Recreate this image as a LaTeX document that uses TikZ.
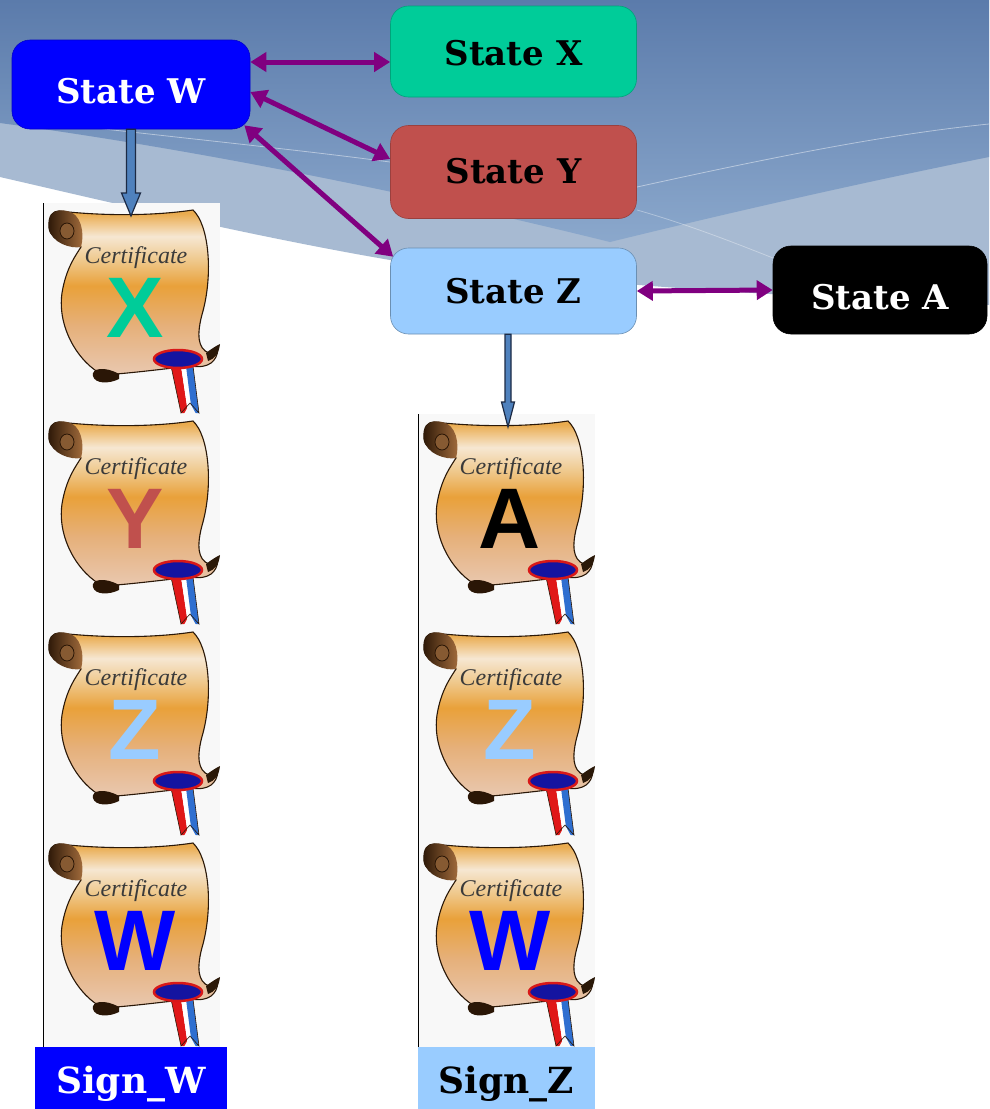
\documentclass[tikz,border=0pt]{standalone}
\usepackage{fontspec}
\setmainfont{DejaVu Serif}
\newfontfamily\letterfont{Liberation Sans}
\newfontfamily\scriptf{Liberation Serif}
\usetikzlibrary{arrows.meta,calc}
\definecolor{stW}{HTML}{0000FF}
\definecolor{stX}{HTML}{00CC99}
\definecolor{stY}{HTML}{C0504D}
\definecolor{stZ}{HTML}{99CCFF}
\definecolor{purp}{HTML}{800080}
\definecolor{barrow}{HTML}{4F81BD}
\definecolor{barrowedge}{HTML}{1C2A44}
\definecolor{bgtop}{HTML}{5B7BAB}
\definecolor{bgbot}{HTML}{8BA8CC}
\definecolor{bgpat}{HTML}{A7BAD2}
\definecolor{certbg}{HTML}{F8F8F8}
\definecolor{edge}{HTML}{2A1808}
\definecolor{certtext}{HTML}{3A3A3A}
\definecolor{sealred}{HTML}{D81818}
\definecolor{sealblue}{HTML}{1414A0}
\definecolor{ribred}{HTML}{E01818}
\definecolor{ribblue}{HTML}{2F6FD0}
\definecolor{rolld}{HTML}{2A1606}
\definecolor{rolll}{HTML}{A8703F}
\definecolor{pA}{HTML}{9A6848}
\definecolor{pB}{HTML}{E8D2C6}
\definecolor{pC}{HTML}{F6ECE6}
\definecolor{pD}{HTML}{E9C8B0}
\definecolor{pE}{HTML}{E6B07A}
\definecolor{pF}{HTML}{E9A13A}
\definecolor{pG}{HTML}{EFC98E}
\definecolor{pH}{HTML}{F6E7D2}
\definecolor{pI}{HTML}{EAAB4E}
\definecolor{pJ}{HTML}{EEBE78}
\definecolor{pK}{HTML}{E9B46A}
\pgfdeclareverticalshading{paper}{100bp}{color(0bp)=(pA); color(4bp)=(pB); color(12bp)=(pC); color(25bp)=(pD); color(40bp)=(pE); color(52bp)=(pF); color(60bp)=(pG); color(67bp)=(pH); color(74bp)=(pI); color(86bp)=(pJ); color(100bp)=(pK)}
\tikzset{
  stbox/.style={rounded corners=18pt, inner sep=0pt, line width=0.6pt,
    font=\bfseries\fontsize{34}{40}\selectfont, text depth=0pt},
  signbox/.style={inner sep=0pt, font=\bfseries\fontsize{36}{42}\selectfont,
    text height=30pt, text depth=0pt, minimum height=62pt},
  dbl/.style={purp, line width=5pt,
    {Triangle[length=16pt,width=19pt]}-{Triangle[length=16pt,width=19pt]}},
  blockarrow/.style={fill=barrow, draw=barrowedge, line width=1.2pt, line join=miter},
  pics/cert/.style 2 args={code={
    \fill[certbg] (0,0) rectangle (177,211);
    \draw[black, line width=1.3pt] (0.6,0) -- (0.6,211);
    \shadedraw[shading=paper, draw=edge, line width=1.1pt]
      (16,8) .. controls (60,13) and (110,13) .. (150,7)
      .. controls (166,22) and (170,70) .. (160,108)
      .. controls (153,132) and (155,146) .. (166,150)
      -- (175,146)
      .. controls (174,158) and (166,166) .. (148,163)
      .. controls (120,166) and (90,170) .. (60,172)
      .. controls (36,160) and (14,125) .. (19,90)
      .. controls (23,65) and (33,52) .. (38,44)
      .. controls (30,40) and (8,40) .. (6,25)
      .. controls (5,12) and (10,8) .. (16,8) -- cycle;
    \shade[left color=rolld, right color=rolll]
      (6,25) .. controls (4,10) and (14,5) .. (24,8)
      .. controls (38,10) and (42,30) .. (38,44)
      .. controls (28,46) and (8,40) .. (6,25) -- cycle;
    \draw[fill=rolll!80!black, draw=rolld, line width=0.8pt] (24,28) ellipse [x radius=7, y radius=8];
    \fill[rolld] (76,171) .. controls (62,163) and (48,165) .. (50,173)
      .. controls (52,181) and (66,181) .. (76,176) -- cycle;
    \fill[edge] (163,150) .. controls (168,146) and (173,143) .. (177,141)
      .. controls (176,150) and (172,156) .. (165,158) -- cycle;
    \fill[ribred] (128,163) -- (138,163) -- (145,210) -- (138,210) -- cycle;
    \fill[white] (138,163) -- (143,163) -- (149,210) -- (145,210) -- cycle;
    \fill[ribblue] (143,163) -- (150,163) -- (156,210) -- (149,210) -- cycle;
    \fill[certbg] (141,211) -- (147,200) -- (153,211) -- cycle;
    \draw[edge, line width=0.6pt] (128,163) -- (138,210) -- (147,200) -- (156,210) -- (150,163);
    \draw[draw=sealred, fill=sealblue, line width=2.5pt] (135,156) ellipse [x radius=24, y radius=9];
    \node[font=\scriptf\itshape\fontsize{24}{24}\selectfont, text=certtext, inner sep=0pt] at (93,55) {Certificate};
    \node[font=\letterfont\bfseries\fontsize{86}{86}\selectfont, text=#2, inner sep=0pt] at (92,105) {#1};
  }}
}
\begin{document}
\begin{tikzpicture}[x=1pt,y=-1pt]
\useasboundingbox (0,0) rectangle (989,1109);
\fill[white] (0,0) rectangle (989,1109);
% slide background
\fill[bgpat] (0,0) -- (989,0) -- (989,305) .. controls (800,296) and (640,290) .. (390,260)
  .. controls (250,236) and (100,200) .. (0,177) -- cycle;
\shade[top color=bgtop, bottom color=bgbot] (0,0) -- (989,0) -- (989,157)
  .. controls (850,185) and (720,215) .. (610,242)
  .. controls (420,195) and (200,150) .. (0,123) -- cycle;
\draw[white, opacity=0.45, line width=0.8pt] (60,124) .. controls (200,140) and (300,150) .. (390,162);
\draw[white, opacity=0.45, line width=0.8pt] (637,187) .. controls (760,160) and (880,135) .. (989,124);
\draw[white, opacity=0.35, line width=0.8pt] (637,210) .. controls (690,225) and (740,245) .. (773,258);
% certificates
\pic at (43,203) {cert={X}{stX}};
\pic at (43,414) {cert={Y}{stY}};
\pic at (43,625) {cert={Z}{stZ}};
\pic at (43,836) {cert={W}{stW}};
\pic at (418,414) {cert={A}{black}};
\pic at (418,625) {cert={Z}{stZ}};
\pic at (418,836) {cert={W}{stW}};
% states
\node[stbox, fill=stW, draw=stW!80!black, text=white, minimum width=238pt, minimum height=89pt, text height=37pt] (w) at (131,84.5) {State W};
\node[stbox, fill=stX, draw=stX!80!black, minimum width=246pt, minimum height=91pt, text height=27pt] (x) at (513.5,51.5) {State X};
\node[stbox, fill=stY, draw=stY!80!black, minimum width=246pt, minimum height=93pt, text height=22pt] (y) at (513.5,172) {State Y};
\node[stbox, fill=stZ, draw=stZ!70!black, minimum width=246pt, minimum height=86pt, text height=24pt] (z) at (513.5,291) {State Z};
\node[stbox, fill=black, draw=black, text=white, minimum width=214pt, minimum height=88pt, text height=38pt] (a) at (880,290) {State A};
% block arrows
\coordinate (cw) at (131,216);
\coordinate (cz) at (508,427);
\draw[blockarrow] ($(cw |- w.south)+(-4.5,0)$) -- ($(cw)+(-4.5,-23)$) -- ($(cw)+(-9.5,-23)$) -- (cw)
  -- ($(cw)+(9.5,-23)$) -- ($(cw)+(4.5,-23)$) -- ($(cw |- w.south)+(4.5,0)$) -- cycle;
\draw[blockarrow] ($(cz |- z.south)+(-3,0)$) -- ($(cz)+(-3,-25)$) -- ($(cz)+(-6.5,-25)$) -- (cz)
  -- ($(cz)+(6.5,-25)$) -- ($(cz)+(3,-25)$) -- ($(cz |- z.south)+(3,0)$) -- cycle;
% double arrows
\coordinate (wx) at (250,62);
\draw[dbl] (w.east |- wx) -- (x.west |- wx);
\draw[dbl] ([shift={(0,7.5)}]w.east) -- ([shift={(0,-13)}]y.west);
\draw[dbl] ([shift={(-6,-4)}]w.south east) -- ([shift={(3,9)}]z.north west);
\draw[dbl] (z.east) -- (a.west);
% signs
\node[signbox, fill=stW, text=white, minimum width=192pt] (sw) at (131,1078) {Sign\_W};
\node[signbox, fill=stZ, text=black, minimum width=177pt] (sz) at (506.5,1078) {Sign\_Z};
\end{tikzpicture}
\end{document}
